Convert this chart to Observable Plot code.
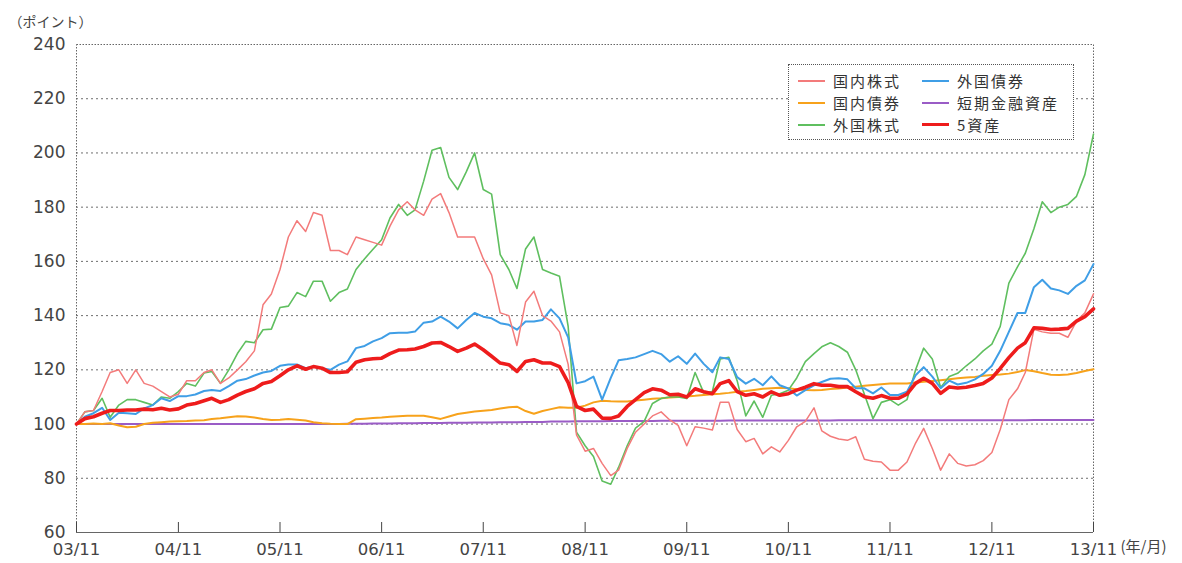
<!DOCTYPE html>
<html>
<head>
<meta charset="utf-8">
<script src="https://cdn.jsdelivr.net/npm/d3@7"></script>
<script src="https://cdn.jsdelivr.net/npm/@observablehq/plot@0.6"></script>
<style>
  body { margin: 0; background: #fff; }
  #wrap { position: relative; width: 1182px; height: 563px; }
  #legend { position: absolute; left: 788px; top: 64px; width: 286px; height: 76px;
    border: 1px dotted #555; box-sizing: border-box; background: #fff;
    font-family: "Noto Sans CJK JP", sans-serif; font-size: 15px; letter-spacing: 2px; color: #333; }
  .item { position: absolute; height: 22px; line-height: 22px; white-space: nowrap; }
  .item .sw { position: absolute; left: 0; top: 11px; width: 27px; }
  .item .lb { position: absolute; left: 35px; top: 0; }
</style>
</head>
<body>
<div id="wrap"><div id="chart"></div><div id="legend"></div></div>
<script>
// ---- data ----
const startMonth = new Date(Date.UTC(2003, 10, 1));
const endMonth = new Date(Date.UTC(2013, 10, 1));
const months = d3.utcMonth.range(startMonth, d3.utcMonth.offset(endMonth, 1)); // 121 months

const seriesNames = ["国内株式", "国内債券", "外国株式", "外国債券", "短期金融資産", "5資産"];
const seriesColors = ["#f37b7b", "#f7a21b", "#5fbf5f", "#3f9ee6", "#9a5cc6", "#ee1c1c"];
const seriesWidths = [1.5, 2, 1.6, 2, 2, 3.6];

const domesticStocks = [
  100,104.5,105,112,119,120,115,120,115,114,
  112,110,111,116,116,119,120,115,117,120,
  123,127,144,148,157,169,175,171,178,177,
  164,164,162.5,169,168,167,166,173,179,182,
  179,177,183,185,178,169,169,169,161,155,
  141,140,129,145,149,140,138,134,122,96,
  90,91,85.5,81,83,91,97,100,103,104.5,
  101.5,99.5,92,99,98.5,97.8,108,108,98,93.5,
  94.7,89,91.6,89.7,94,99,101,106,97.5,95.5,
  94.5,94,95.3,87,86.3,86,83,83,86,93,
  98.4,91,83,89,85.5,84.5,85,86.5,89.5,98,
  109,113,119,135,134,133.5,133.5,132,138,141,
  148];
const domesticBonds = [
  100,100,100.2,100,100.3,99.5,98.8,99,100,100.5,
  100.7,100.9,101,101.1,101.3,101.4,101.9,102.1,102.5,102.9,
  102.8,102.4,101.9,101.5,101.6,101.9,101.6,101.3,100.7,100.3,
  100.1,100,100,101.8,102,102.2,102.4,102.7,102.9,103.1,
  103.1,103.1,102.5,101.9,102.8,103.7,104.2,104.6,104.9,105.2,
  105.7,106.2,106.4,104.8,103.8,104.8,105.5,106.2,106,106,
  106.8,108,108.6,108.4,108.3,108.3,108.7,109,109.3,109.5,
  109.8,110,110.2,110.4,110.7,111,111.2,111.5,111.9,112.2,
  112.6,113,113.2,113.4,113.2,112.8,112.6,112.5,112.6,112.9,
  113.1,113.5,113.8,114.1,114.4,114.7,115,115,115,115.3,
  115.6,115.9,116.2,116.5,116.9,117.2,117.4,117.8,118.1,118.3,
  118.6,119.2,119.9,119.5,118.8,118.2,118.1,118.3,118.8,119.6,
  120.2];
const foreignStocks = [
  100,104.5,105,109.5,102.5,107,109,109,108,107,
  110,109.5,112,115,114,118.8,119.4,115,120,126,
  130.5,130,134.8,135,143,143.5,148.5,147,152.7,152.7,
  145.3,148.5,149.8,157,161,164.5,168,176,181,177,
  179,189.6,201,202,191,186.5,193,200,186.5,184.8,
  162.5,157,150,164.6,169,157,155.7,154.5,136,97,
  92,88,79,77.8,84,92,98.5,101,107.6,109.4,
  110,110,109.4,119,111.5,112,124,124.6,116,103,
  108.5,102.5,110.6,111.2,112.5,117,123,126,128.5,130,
  128.6,126.5,120,111,102,108,109,107,109,120,
  128,124,113.5,117.5,118.7,121.5,124,127,129.5,136,
  152,158,163,172,182,178,180,181,184,192,
  207];
const foreignBonds = [
  100,102.7,104,106,101.5,104.2,104,103.7,105.8,107,
  109.5,108.5,110.3,110.3,110.9,112.2,112.6,112.2,114,116,
  116.6,117.9,119,119.6,121.5,122,122,120.6,121.2,120.6,
  120,121.9,123.1,128,128.8,130.5,131.7,133.5,133.7,133.7,
  134.1,137.4,137.8,139.6,137.8,135.3,138.4,141,139.6,139,
  137.2,136.6,134.8,137.8,137.8,138.4,142.3,139,132,115,
  115.8,117.5,109,117,123.5,124,124.6,125.8,127,125.8,
  123,125,122.2,126,122.2,119.1,124.6,124,117.3,114.9,
  116.7,114.3,117.6,114.3,113.1,110.5,112.5,114.3,115.5,116.7,
  116.9,116.5,113.2,113.2,111.3,113.5,110.7,110.7,111.9,118,
  121,117.5,113.2,116,114.6,115.2,116.5,118.5,121.5,127,
  134,141,141,150.5,153.2,150,149.3,148,151,153,
  159];
const shortTerm = [
  100,100,100,100,100,100,100,100,100,100,
  100,100,100,100,100,100,100,100,100,100,
  100,100,100,100,100,100,100,100,100,100,
  100,100,100.1,100.1,100.1,100.2,100.2,100.2,100.3,100.3,
  100.3,100.4,100.4,100.4,100.5,100.5,100.5,100.6,100.6,100.6,
  100.7,100.7,100.7,100.8,100.8,100.8,100.9,100.9,100.9,101,
  101,101,101,101.1,101.1,101.1,101.1,101.1,101.1,101.2,
  101.2,101.2,101.2,101.2,101.2,101.2,101.2,101.3,101.3,101.3,
  101.3,101.3,101.3,101.3,101.3,101.3,101.3,101.3,101.3,101.3,
  101.4,101.4,101.4,101.4,101.4,101.4,101.4,101.4,101.4,101.4,
  101.4,101.4,101.4,101.4,101.4,101.4,101.4,101.4,101.4,101.4,
  101.4,101.4,101.4,101.5,101.5,101.5,101.5,101.5,101.5,101.5,
  101.5];
const fiveAssets = [
  100,102,102.7,104,105,105,105.2,105.2,105.5,105.3,
  105.8,105.2,105.6,107,107.6,108.6,109.5,108,109,110.7,
  112,113,115,115.7,117.8,120,121.5,120.2,121.2,120.6,
  119,119,119.3,122.8,123.7,124.1,124.3,126,127.3,127.4,
  127.7,128.6,129.9,130.1,128.6,126.8,128,129.5,127.4,125,
  122.5,121.9,119.4,123.1,123.7,122.5,122.5,121.2,115.3,106.5,
  105,105.5,102.2,102.1,103,106.5,109,111.6,113,112.5,
  110.8,111,110,113,111.9,111.2,114.9,116,112,110.6,
  111.2,110,111.9,110.6,111.2,112.5,113.6,114.9,114.3,114.3,
  113.8,113.8,111.9,110.1,109.5,110.5,109.5,109.5,111,115,
  116.9,115,111.3,113.7,113.3,113.6,114.2,115,117,120.5,
  124.5,128,130,135.5,135.3,134.9,135,135.3,138,139.6,
  142.5];

const yTicks = [60, 80, 100, 120, 140, 160, 180, 200, 220, 240];
const xTickLabels = ["03/11","04/11","05/11","06/11","07/11","08/11","09/11","10/11","11/11","12/11","13/11"];
const xTicks = xTickLabels.map((s) => new Date(Date.UTC(2000 + +s.slice(0, 2), 10, 1)));
const yUnit = "（ポイント）";
const xUnit = "(年/月)";

// ---- build table ----
const valueArrays = [domesticStocks, domesticBonds, foreignStocks, foreignBonds, shortTerm, fiveAssets];
const drawOrder = [4, 1, 2, 3, 0, 5];
const rows = [];
for (const k of drawOrder) {
  valueArrays[k].forEach((v, i) => rows.push({date: months[i], value: v, series: seriesNames[k]}));
}
const labelMap = new Map(xTicks.map((d, i) => [+d, xTickLabels[i]]));

const jp = "Noto Sans CJK JP";
const chart = Plot.plot({
  width: 1182,
  height: 563,
  marginLeft: 76,
  marginRight: 89,
  marginTop: 44,
  marginBottom: 31,
  style: {fontFamily: "DejaVu Sans", fontSize: "17px", color: "#444", background: "#fff"},
  x: {type: "utc", domain: [startMonth, endMonth]},
  y: {domain: [60, 240]},
  color: {domain: seriesNames, range: seriesColors},
  marks: [
    Plot.gridY(yTicks.filter((v) => v > 60 && v < 240), {stroke: "#555", strokeOpacity: 0.85, strokeDasharray: "2,3"}),
    Plot.frame({stroke: "#666", strokeDasharray: "1.5,1.5"}),
    Plot.ruleY([60], {stroke: "#666"}),
    ...drawOrder.map((k) => Plot.line(rows.filter((r) => r.series === seriesNames[k]), {
      x: "date", y: "value", stroke: "series", strokeWidth: seriesWidths[k], strokeLinejoin: "round", curve: "linear"
    })),
    Plot.axisY({ticks: yTicks, tickSize: 0, tickPadding: 11, label: null, fontSize: 17}),
    Plot.axisX({ticks: xTicks, tickSize: -10, tickPadding: 21, label: null, fontSize: 16.5,
      tickFormat: (d) => labelMap.get(+d)}),
    Plot.text([yUnit], {frameAnchor: "top-left", dx: -68, dy: -27, textAnchor: "start", fontSize: 14, fontFamily: jp, fill: "#444"}),
    Plot.text([xUnit], {frameAnchor: "bottom-right", dx: 27, dy: 19, textAnchor: "start", fontSize: 15, fontFamily: jp, fill: "#444"})
  ]
});
document.getElementById("chart").appendChild(chart);

// ---- legend ----
const legend = document.getElementById("legend");
const legendPos = [[9, 5], [9, 27], [9, 49], [133, 5], [133, 27], [133, 49]];
seriesNames.forEach((name, k) => {
  const it = document.createElement("div");
  it.className = "item";
  it.style.left = legendPos[k][0] + "px";
  it.style.top = legendPos[k][1] + "px";
  const sw = document.createElement("div");
  sw.className = "sw";
  sw.style.borderTop = `${Math.max(2, seriesWidths[k])}px solid ${seriesColors[k]}`;
  sw.style.marginTop = `-${Math.max(2, seriesWidths[k]) / 2}px`;
  const lb = document.createElement("div");
  lb.className = "lb";
  lb.textContent = name;
  it.appendChild(sw); it.appendChild(lb);
  legend.appendChild(it);
});
</script>
</body>
</html>
